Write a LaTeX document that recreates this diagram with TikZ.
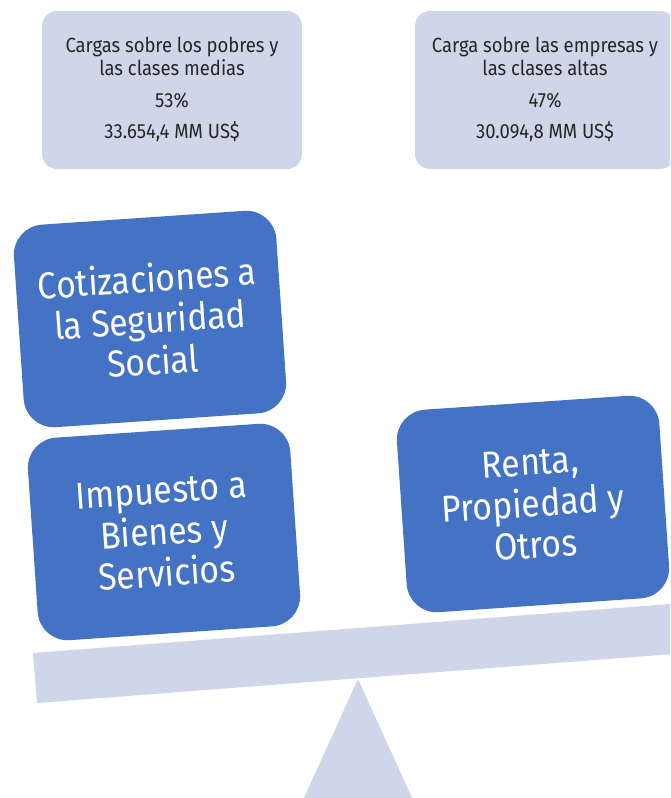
\documentclass[tikz,border=0pt]{standalone}
\usepackage{fontspec}
\setmainfont{Fira Sans}[FakeStretch=0.9]
\definecolor{blueBox}{HTML}{4472C4}
\definecolor{lightBox}{HTML}{CFD6EA}
\begin{document}
\begin{tikzpicture}[x=1pt,y=-1pt,
  topbox/.style={fill=lightBox, rounded corners=15pt, minimum width=260pt, minimum height=158pt,
    align=center, text=black!85, inner sep=0pt, font=\fontsize{20.5}{23}\selectfont},
  bluebox/.style={fill=blueBox, rounded corners=30pt, minimum width=263pt, minimum height=203pt,
    align=center, text=white, inner sep=0pt, rotate=3.9, font=\fontsize{37.5}{41.5}\selectfont}]
\useasboundingbox (0,0) rectangle (670,798);
\clip (0,0) rectangle (670,798);
% balance
\fill[lightBox] (33,653) -- (37,703) -- (690,652.7) -- (686,602.7) -- cycle;
\fill[lightBox] (358,679) -- (413,800) -- (303,800) -- cycle;
% top boxes
\node[topbox] (pobres) at (172,90) {Cargas sobre los pobres y\\las clases medias\\[8.5pt]53\%\\[8.5pt]33.654,4 MM US\$};
\node[topbox] (altas) at (545,90) {Carga sobre las empresas y\\las clases altas\\[8.5pt]47\%\\[8.5pt]30.094,8 MM US\$};
% blue boxes
\node[bluebox] (cot) at (150,319) {Cotizaciones a\\la Seguridad\\Social};
\node[bluebox] (imp) at (164,532) {Impuesto a\\Bienes y\\Servicios};
\node[bluebox] (renta) at (533,504) {Renta,\\Propiedad y\\Otros};
\end{tikzpicture}
\end{document}
